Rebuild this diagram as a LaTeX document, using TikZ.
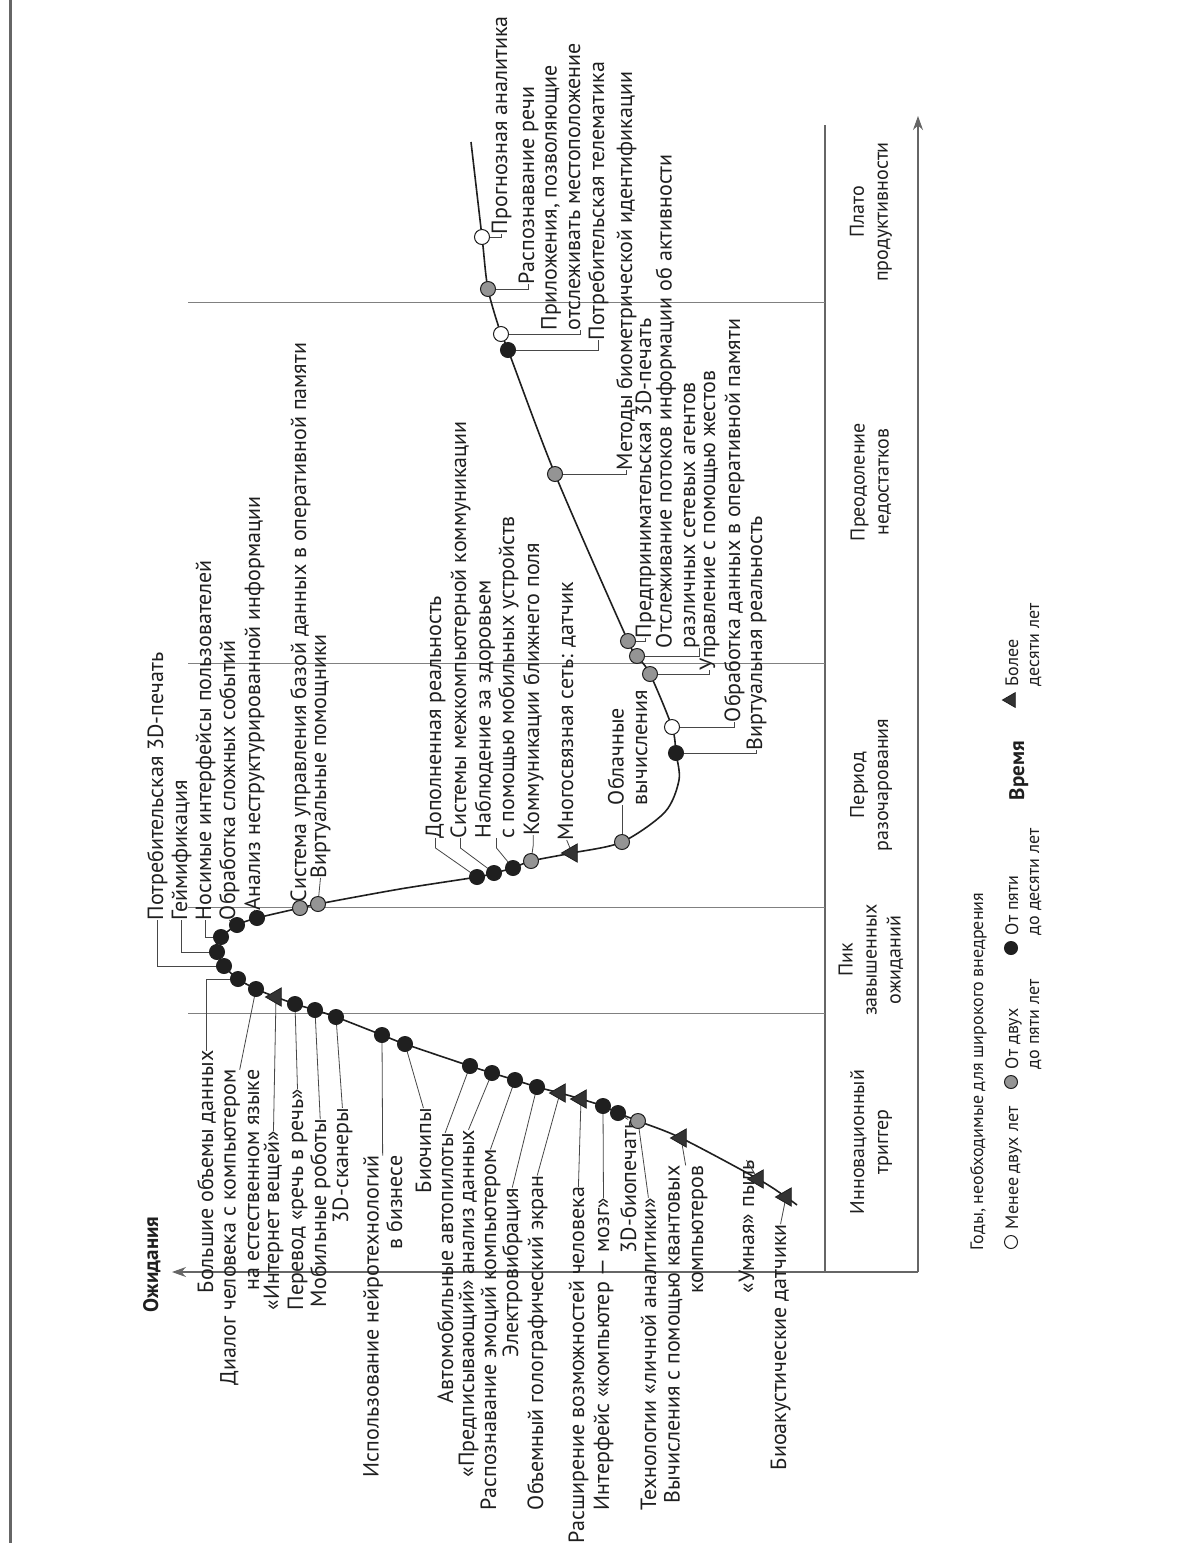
\documentclass[tikz,border=0pt]{standalone}
\usepackage{fontspec}
\setmainfont{PT Sans}
\usetikzlibrary{shapes.geometric,arrows.meta}
\begin{document}
\begin{tikzpicture}[x=1pt,y=-1pt,
  every node/.style={inner sep=0pt, outer sep=0pt},
  lab/.style={rotate=90, font=\fontsize{22}{23.5}\selectfont, text=black!88},
  labup/.style={lab, anchor=base west, align=left},
  labupr/.style={lab, anchor=base west, align=right},
  phase/.style={rotate=90, font=\fontsize{20}{24}\selectfont, align=center, text=black!88},
  legtxt/.style={rotate=90, font=\fontsize{18}{21}\selectfont, align=left, anchor=base west, text=black!88},
  axislbl/.style={rotate=90, font=\fontsize{21}{24}\selectfont\bfseries, text=black!88},
  leader/.style={draw=black!72, line width=0.8pt},
  hype/.style={draw=black!88, line width=1.6pt},
  phaseline/.style={draw=black!50, line width=0.9pt},
  frameline/.style={draw=black!60, line width=1.1pt},
  dot/.style={circle, draw=black!88, line width=1pt, minimum size=15pt},
  dw/.style={dot, fill=white},
  dg/.style={dot, fill=black!42},
  dd/.style={dot, fill=black!88},
  dt/.style={regular polygon, regular polygon sides=3, shape border rotate=90, draw=black!88, fill=black!80, line width=0.8pt, minimum size=21pt},
]
\useasboundingbox (0,0) rectangle (1177,1543);
\fill[white] (0,0) rectangle (1177,1543);

% page edge line
\coordinate (pgT) at (10,0);
\coordinate (pgB) at (10,1543);
\draw[draw=black!60, line width=3pt] (pgT) -- (pgB);

% axes and phase column
\coordinate (O) at (918,1272);
\coordinate (Ytip) at (172,1272);
\coordinate (Xtip) at (918,116);
\coordinate (tabT) at (825,125);
\coordinate (tabB) at (825,1272);
\draw[frameline] (tabT) -- (tabB);
\draw[frameline, -{Stealth[length=14pt,width=10pt]}] (O) -- (Ytip);
\draw[frameline, -{Stealth[length=14pt,width=10pt]}] (O) -- (Xtip);

% phase boundaries
\foreach \yy/\nm in {302/pa,663/pb,907/pc,1013/pd}{
  \coordinate (\nm L) at (188,\yy);
  \coordinate (\nm R) at (825,\yy);
  \draw[phaseline] (\nm L) -- (\nm R);
}

% phase names
\node[phase] (ph1) at (871,212) {Плато\\продуктивности};
\node[phase] (ph2) at (871,482) {Преодоление\\недостатков};
\node[phase] (ph3) at (871,785) {Период\\разочарования};
\node[phase] (ph4) at (871,960) {Пик\\завышенных\\ожиданий};
\node[phase] (ph5) at (871,1142) {Инновационный\\триггер};

% axis labels
\node[axislbl, anchor=base west] (yl) at (158,1312) {Ожидания};
\node[axislbl, anchor=base west] (xl) at (1024,800) {Время};

% legend
\node[legtxt] (lgT) at (983,1250) {Годы, необходимые для широкого внедрения};
\node[dw, minimum size=13pt] (lg1) at (1011,1242) {};
\node[legtxt] (lg1t) at (1018,1229) {Менее двух лет};
\node[dg, minimum size=13pt] (lg2) at (1011,1082) {};
\node[legtxt] (lg2t) at (1039,1069) {От двух\\до пяти лет};
\node[dd, minimum size=13pt] (lg3) at (1011,948) {};
\node[legtxt] (lg3t) at (1039,935) {От пяти\\до десяти лет};
\node[dt, minimum size=17pt] (lg4) at (1011,700) {};
\node[legtxt] (lg4t) at (1039,686) {Более\\десяти лет};

% key points of the curve
\coordinate (c0) at (797,1205);
\coordinate (dr20p) at (786,1197);
\coordinate (dr19p) at (758,1179);
\coordinate (dr18p) at (681,1138);
\coordinate (dr17p) at (638,1121);
\coordinate (dr16p) at (618,1113);
\coordinate (dr15p) at (603,1106);
\coordinate (dr14p) at (581,1099);
\coordinate (dr13p) at (560,1093);
\coordinate (dr12p) at (537,1087);
\coordinate (dr11p) at (515,1080);
\coordinate (dr10p) at (492,1073);
\coordinate (dr9p) at (470,1066);
\coordinate (dr8p) at (405,1044);
\coordinate (dr7p) at (382,1035);
\coordinate (dr6p) at (336,1017);
\coordinate (dr5p) at (315,1010);
\coordinate (dr4p) at (295,1004);
\coordinate (dr3p) at (276,997);
\coordinate (dr2p) at (256,989);
\coordinate (dr1p) at (238,979);
\coordinate (da1p) at (224,966);
\coordinate (da2p) at (217,952);
\coordinate (cpk) at (216,945);
\coordinate (da3p) at (221,937);
\coordinate (da4p) at (237,925);
\coordinate (da5p) at (257,918);
\coordinate (da6p) at (300,908);
\coordinate (da7p) at (318,904);
\coordinate (cm1) at (400,889);
\coordinate (dt1p) at (477,877);
\coordinate (dt2p) at (494,873);
\coordinate (dt3p) at (513,868);
\coordinate (dt4p) at (531,861);
\coordinate (dt5p) at (572,853);
\coordinate (dt6p) at (622,842);
\coordinate (cm2) at (665,812);
\coordinate (cm3) at (679,780);
\coordinate (ds10p) at (676,753);
\coordinate (ds9p) at (672,727);
\coordinate (ds8p) at (650,674);
\coordinate (ds7p) at (637,656);
\coordinate (ds6p) at (628,641);
\coordinate (ds5p) at (555,474);
\coordinate (ds4p) at (508,350);
\coordinate (ds3p) at (501,334);
\coordinate (ds2p) at (488,289);
\coordinate (ds1p) at (482,237);
\coordinate (cend) at (471,142);

\draw[hype] plot[smooth, tension=0.5] coordinates {(c0) (dr20p) (dr19p) (dr18p) (dr17p) (dr16p) (dr15p) (dr14p) (dr13p) (dr12p) (dr11p) (dr10p) (dr9p) (dr8p) (dr7p) (dr6p) (dr5p) (dr4p) (dr3p) (dr2p) (dr1p) (da1p) (da2p) (cpk) (da3p) (da4p) (da5p) (da6p) (da7p) (cm1) (dt1p) (dt2p) (dt3p) (dt4p) (dt5p) (dt6p) (cm2) (cm3) (ds10p) (ds9p) (ds8p) (ds7p) (ds6p) (ds5p) (ds4p) (ds3p) (ds2p) (ds1p) (cend)};

% ---------- labels ----------
% slope of enlightenment (text starts at the given point and runs upward)
\node[labup] (s1) at (507,234) {Прогнозная аналитика};
\node[labup] (s2) at (534,284) {Распознавание речи};
\node[labup] (s3) at (580,330) {Приложения, позволяющие\\отслеживать местоположение};
\node[labup] (s4) at (604,340) {Потребительская телематика};
\node[labup] (s5) at (632,470) {Методы биометрической идентификации};
\node[labup] (s6) at (651,638) {Предпринимательская 3D-печать};
\node[labup] (s7) at (695,648) {Отслеживание потоков информации об активности\\различных сетевых агентов};
\node[labup] (s8) at (715,670) {Управление с помощью жестов};
\node[labup] (s9) at (740,722) {Обработка данных в оперативной памяти};
\node[labup] (s10) at (762,750) {Виртуальная реальность};
% trough
\node[labup] (t1) at (441,838) {Дополненная реальность};
\node[labup] (t2) at (466,838) {Системы межкомпьютерной коммуникации};
\node[labup] (t3) at (514,838) {Наблюдение за здоровьем\\с помощью мобильных устройств};
\node[labup] (t4) at (539,835) {Коммуникации ближнего поля};
\node[labup] (t5) at (573,840) {Многосвязная сеть: датчик};
\node[labup] (t6) at (647,805) {Облачные\\вычисления};
% peak, upper side
\node[labup] (a1) at (163,920) {Потребительская 3D-печать};
\node[labup] (a2) at (187,920) {Геймификация};
\node[labup] (a3) at (211,920) {Носимые интерфейсы пользователей};
\node[labup] (a4) at (235,920) {Обработка сложных событий};
\node[labup] (a5) at (260,910) {Анализ неструктурированной информации};
\node[labup] (a6) at (306,902) {Система управления базой данных в оперативной памяти};
\node[labup] (a7) at (326,878) {Виртуальные помощники};
% rising side (bottom ends given)
\node[labupr] (r1) at (213,1293) {Большие объемы данных};
\node[labupr] (r2) at (259,1385) {Диалог человека с компьютером\\на естественном языке};
\node[labupr] (r3) at (279,1310) {«Интернет вещей»};
\node[labupr] (r4) at (303,1310) {Перевод «речь в речь»};
\node[labupr] (r5) at (326,1307) {Мобильные роботы};
\node[labupr] (r6) at (348,1223) {3D-сканеры};
\node[labupr] (r7) at (402,1477) {Использование нейротехнологий\\в бизнесе};
\node[labupr] (r8) at (431,1193) {Биочипы};
\node[labupr] (r9) at (453,1403) {Автомобильные автопилоты};
\node[labupr] (r10) at (474,1477) {«Предписывающий» анализ данных};
\node[labupr] (r11) at (496,1510) {Распознавание эмоций компьютером};
\node[labupr] (r12) at (518,1357) {Электровибрация};
\node[labupr] (r13) at (543,1510) {Объемный голографический экран};
\node[labupr] (r14) at (584,1543) {Расширение возможностей человека};
\node[labupr] (r15) at (609,1510) {Интерфейс «компьютер — мозг»};
\node[labupr] (r16) at (636,1253) {3D-биопечать};
\node[labupr] (r17) at (656,1510) {Технологии «личной аналитики»};
\node[labupr] (r18) at (703,1503) {Вычисления с помощью квантовых\\компьютеров};
\node[labupr] (r19) at (754,1293) {«Умная» пыль};
\node[labupr] (r20) at (786,1470) {Биоакустические датчики};

% ---------- leaders ----------
\draw[leader] (s1.west) |- (ds1p);
\draw[leader] (s2.west) |- (ds2p);
\draw[leader] (s3.south west) |- (ds3p);
\draw[leader] (s4.west) |- (ds4p);
\draw[leader] (s5.west) |- (ds5p);
\draw[leader] (s6.west) |- (ds6p);
\draw[leader] (s7.south west) |- (ds7p);
\draw[leader] (s8.west) |- (ds8p);
\draw[leader] (s9.west) |- (ds9p);
\draw[leader] (s10.west) |- (ds10p);
\foreach \n in {t1,t2,t3,t4}{\draw[leader] (\n.west) -- ++(0,10) -- (d\n p);}
\draw[leader] (t5.west) -- (dt5p);
\draw[leader] (t6.west -| dt6p) -- (dt6p);
\draw[leader] (a1.west) |- (da1p);
\draw[leader] (a2.west) |- (da2p);
\draw[leader] (a3.west) |- (da3p);
\draw[leader] (a4.west) -- (da4p);
\draw[leader] (a5.west) -- (da5p);
\draw[leader] (a6.west) -- (da6p);
\draw[leader] (a7.west) -- (da7p);
\draw[leader] (r1.east) |- (dr1p);
\foreach \n in {r2,r3,r4,r5,r6,r7,r8,r9,r10,r11,r12,r13,r14,r15,r16,r17,r18,r19,r20}{\draw[leader] (\n.east) -- (d\n p);}

% ---------- markers ----------
\node[dw] (ds1) at (ds1p) {};
\node[dg] (ds2) at (ds2p) {};
\node[dw] (ds3) at (ds3p) {};
\node[dd] (ds4) at (ds4p) {};
\node[dg] (ds5) at (ds5p) {};
\node[dg] (ds6) at (ds6p) {};
\node[dg] (ds7) at (ds7p) {};
\node[dg] (ds8) at (ds8p) {};
\node[dw] (ds9) at (ds9p) {};
\node[dd] (ds10) at (ds10p) {};
\node[dg] (dt6) at (dt6p) {};
\node[dt] (dt5) at (dt5p) {};
\node[dg] (dt4) at (dt4p) {};
\node[dd] (dt3) at (dt3p) {};
\node[dd] (dt2) at (dt2p) {};
\node[dd] (dt1) at (dt1p) {};
\node[dg] (da7) at (da7p) {};
\node[dg] (da6) at (da6p) {};
\node[dd] (da5) at (da5p) {};
\node[dd] (da4) at (da4p) {};
\node[dd] (da3) at (da3p) {};
\node[dd] (da2) at (da2p) {};
\node[dd] (da1) at (da1p) {};
\node[dd] (dr1) at (dr1p) {};
\node[dd] (dr2) at (dr2p) {};
\node[dt] (dr3) at (dr3p) {};
\node[dd] (dr4) at (dr4p) {};
\node[dd] (dr5) at (dr5p) {};
\node[dd] (dr6) at (dr6p) {};
\node[dd] (dr7) at (dr7p) {};
\node[dd] (dr8) at (dr8p) {};
\node[dd] (dr9) at (dr9p) {};
\node[dd] (dr10) at (dr10p) {};
\node[dd] (dr11) at (dr11p) {};
\node[dd] (dr12) at (dr12p) {};
\node[dt] (dr13) at (dr13p) {};
\node[dt] (dr14) at (dr14p) {};
\node[dd] (dr15) at (dr15p) {};
\node[dd] (dr16) at (dr16p) {};
\node[dg] (dr17) at (dr17p) {};
\node[dt] (dr18) at (dr18p) {};
\node[dt] (dr19) at (dr19p) {};
\node[dt] (dr20) at (dr20p) {};
\end{tikzpicture}
\end{document}
